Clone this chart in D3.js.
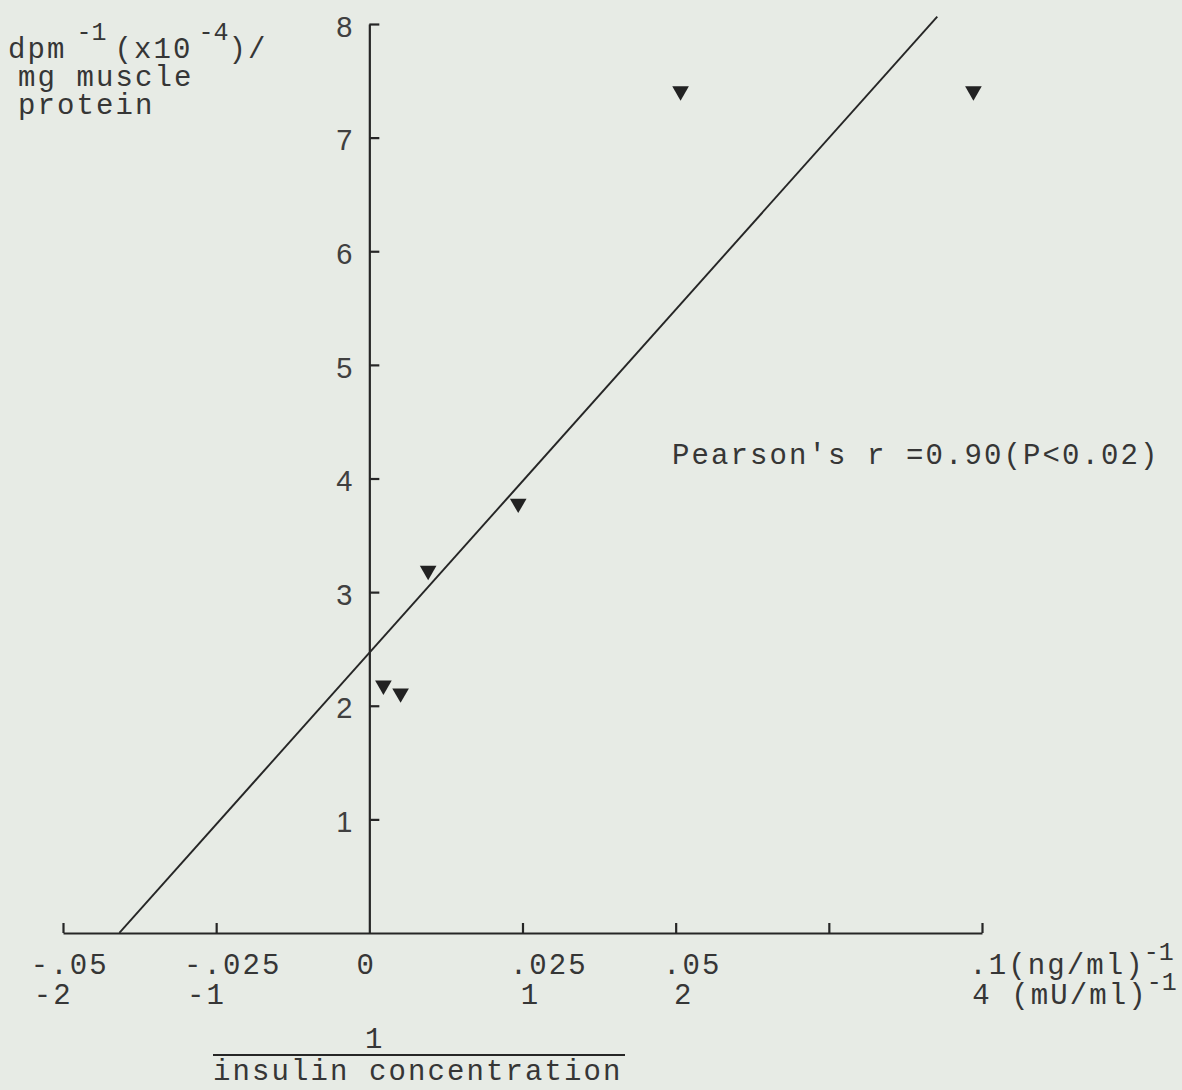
<!DOCTYPE html>
<html>
<head>
<meta charset="utf-8">
<script src="https://cdn.jsdelivr.net/npm/d3@7"></script>
<style>
  html, body { margin: 0; padding: 0; background: #e7ebe5; }
  svg { display: block; }
  .mono { font-family: "Liberation Mono", "DejaVu Sans Mono", monospace; font-size: 29px; letter-spacing: 2.1px; fill: #363636; }
  .sup { font-size: 25px; letter-spacing: 0; }
  .num { font-family: "Liberation Sans", Arial, sans-serif; font-size: 29px; fill: #404040; }
</style>
</head>
<body>
<script>
// insulin^-1 (ng/ml)^-1 vs dpm^-1 (x10^-4) / mg muscle protein
const pointX = [0.0023, 0.0051, 0.0096, 0.0243, 0.0508, 0.0986];
const pointY = [2.18, 2.11, 3.19, 3.78, 7.41, 7.41];

// fitted line as drawn on the figure
const fitSlope = 60.4;
const fitIntercept = 2.466;
const fitXRange = [-0.0408, 0.0927];

const xTicks = [-0.05, -0.025, 0, 0.025, 0.05, 0.075, 0.1];
const xLabelsNg = ['-.05', '-.025', '0', '.025', '.05', '.1'];
const xLabelValuesNg = [-0.05, -0.025, 0, 0.025, 0.05, 0.1];
const xLabelsMu = ['-2', '-1', '1', '2', '4'];
const xLabelValuesMu = [-2, -1, 1, 2, 4];
const muPerNg = 0.025; // 1 mU/ml == 0.025 on the ng scale
const yTicks = [1, 2, 3, 4, 5, 6, 7, 8];

const width = 1182, height = 1090;
const pitch = 19.5; // typewriter character pitch

const svg = d3.select('body').append('svg')
    .attr('width', width)
    .attr('height', height);

svg.append('rect').attr('width', width).attr('height', height).attr('fill', '#e7ebe5');

const x = d3.scaleLinear().domain([-0.05, 0.1]).range([63, 982]);
const y = d3.scaleLinear().domain([0, 8]).range([933, 24]);

// x axis, ticks pointing up
const xAxis = svg.append('g')
    .attr('transform', `translate(0,${y(0)})`)
    .call(d3.axisTop(x).tickValues(xTicks).tickSize(10).tickSizeOuter(0).tickFormat(''));

// y axis, ticks pointing right
svg.append('g')
    .attr('transform', `translate(${x(0)},0)`)
    .call(d3.axisRight(y).tickValues(yTicks).tickSize(10).tickSizeOuter(0).tickFormat(''));

svg.selectAll('.domain, .tick line')
    .attr('stroke', '#262626')
    .attr('stroke-width', 2.2);
xAxis.selectAll('.tick').filter((d) => d === 0).remove();

// y tick labels
svg.append('g').selectAll('text')
    .data(yTicks)
    .join('text')
    .classed('num', true)
    .attr('x', x(0) - 17)
    .attr('y', (d) => y(d) + 5)
    .attr('text-anchor', 'end')
    .attr('dominant-baseline', 'middle')
    .text((d) => d);

// x tick labels, first row (ng/ml), aligned on the decimal point
const keyIndex = (s) => (s.indexOf('.') >= 0 ? s.indexOf('.') : s.search(/\d/));
const rowNg = svg.append('g').selectAll('text')
    .data(xLabelsNg)
    .join('text')
    .classed('mono', true)
    .attr('x', (d, i) => x(xLabelValuesNg[i]) - (keyIndex(d) + 0.5) * pitch - 3)
    .attr('y', 974)
    .text((d) => d);

rowNg.filter((d, i) => i === xLabelsNg.length - 1).each(function () {
    const t = d3.select(this);
    t.append('tspan').text('(ng/ml)');
    t.append('tspan').classed('sup', true).attr('dx', -1).attr('dy', -14).text('-1');
});

// second row (mU/ml)
const rowMu = svg.append('g').selectAll('text')
    .data(xLabelsMu)
    .join('text')
    .classed('mono', true)
    .attr('x', (d, i) => x(xLabelValuesMu[i] * muPerNg) - (keyIndex(d) + 0.5) * pitch + (xLabelValuesMu[i] > 0 && xLabelValuesMu[i] < 4 ? 8 : 0))
    .attr('y', 1004)
    .text((d) => d);

rowMu.filter((d, i) => i === xLabelsMu.length - 1).each(function () {
    const t = d3.select(this);
    t.append('tspan').text(' (mU/ml)');
    t.append('tspan').classed('sup', true).attr('dx', -1).attr('dy', -14).text('-1');
});

// x axis title as a fraction
const fracLeft = 213, fracRight = 625;
svg.append('text')
    .classed('mono', true)
    .attr('x', fracLeft + 8.5 * pitch - 4)
    .attr('y', 1048)
    .attr('text-anchor', 'middle')
    .text('1');
svg.append('line')
    .attr('x1', fracLeft).attr('x2', fracRight)
    .attr('y1', 1055).attr('y2', 1055)
    .attr('stroke', '#262626')
    .attr('stroke-width', 2);
svg.append('text')
    .classed('mono', true)
    .attr('x', fracLeft)
    .attr('y', 1080)
    .text('insulin concentration');

// y axis title
const yTitle = svg.append('text').classed('mono', true).attr('x', 8).attr('y', 58);
yTitle.append('tspan').text('dpm');
yTitle.append('tspan').classed('sup', true).attr('dx', 10).attr('dy', -18).text('-1');
yTitle.append('tspan').attr('dx', 8).attr('dy', 18).text('(x10');
yTitle.append('tspan').classed('sup', true).attr('dx', 6).attr('dy', -18).text('-4');
yTitle.append('tspan').attr('dx', 0).attr('dy', 18).text(')/');
svg.append('text').classed('mono', true).attr('x', 18).attr('y', 86).text('mg muscle');
svg.append('text').classed('mono', true).attr('x', 18).attr('y', 114).text('protein');

// regression line
const fitLine = d3.line()
    .x((d) => x(d))
    .y((d) => y(fitSlope * d + fitIntercept));
svg.append('path')
    .datum(fitXRange)
    .attr('d', fitLine)
    .attr('fill', 'none')
    .attr('stroke', '#262626')
    .attr('stroke-width', 1.9);

// data points, downward triangles
const tri = d3.symbol().type(d3.symbolTriangle).size(120);
svg.append('g').selectAll('path')
    .data(pointX)
    .join('path')
    .attr('d', tri)
    .attr('transform', (d, i) => `translate(${x(d)},${y(pointY[i])}) rotate(180)`)
    .attr('fill', '#222');

// correlation note
svg.append('text')
    .classed('mono', true)
    .attr('x', 672)
    .attr('y', 464)
    .text("Pearson's r =0.90(P<0.02)");
</script>
</body>
</html>
